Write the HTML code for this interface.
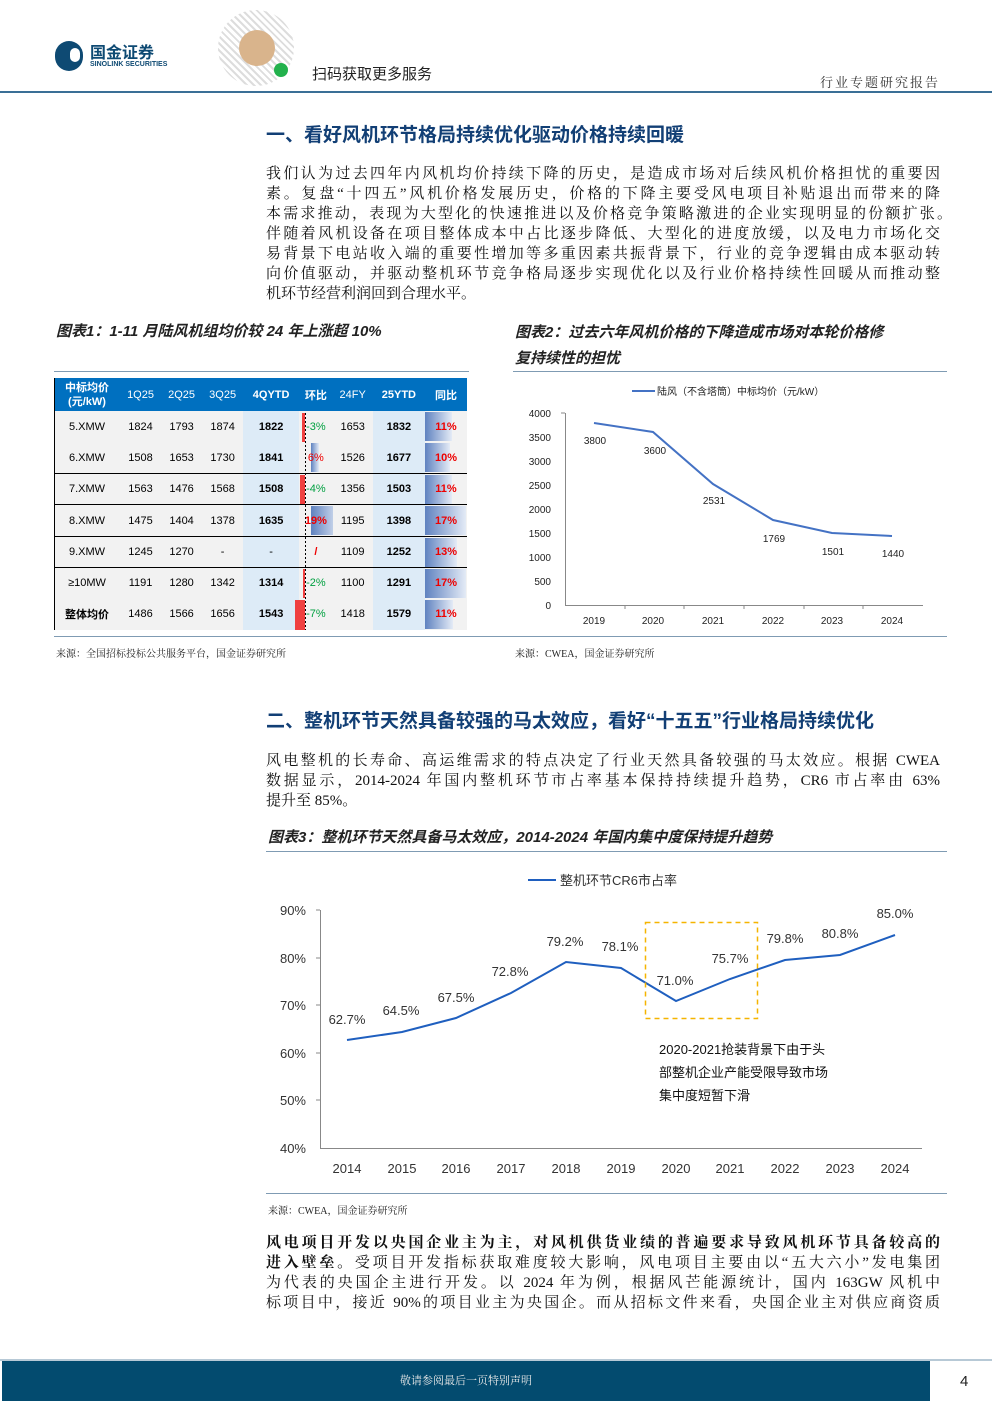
<!DOCTYPE html>
<html><head><meta charset="utf-8">
<style>
*{margin:0;padding:0;box-sizing:border-box}
body{width:992px;height:1403px;position:relative;background:#fff;overflow:hidden;font-family:"Liberation Sans","Noto Sans CJK SC",sans-serif;color:#000}
.a{position:absolute;white-space:nowrap}
.p{position:absolute;left:266px;width:674px;font-family:"Liberation Serif","Noto Serif CJK SC",serif;font-size:15px;line-height:20px;color:#111}
.p div{height:20px;text-align:justify;text-align-last:justify;white-space:nowrap;overflow:visible}
.p div.l{text-align-last:left}
.h{position:absolute;left:266px;font-size:19px;font-weight:bold;color:#123f75;font-family:"Liberation Sans","Noto Sans CJK SC",sans-serif}
.ft{position:absolute;font-size:15px;font-weight:bold;font-style:italic;color:#222;font-family:"Liberation Sans","Noto Sans CJK SC",sans-serif}
.ln{position:absolute;height:1px;background:#7f9bb3}
.src{position:absolute;font-size:10px;color:#222;font-family:"Liberation Serif","Noto Serif CJK SC",serif}
table{border-collapse:collapse;position:absolute;left:54px;top:378px;width:413px;font-size:11px;z-index:2}
td{height:31.3px;text-align:center;background-color:#f2f2f2;padding:0}
tr.hd td{background:#0070c0;color:#fff;font-weight:bold;height:33px;font-size:11px}
tr.hd td.n{font-weight:normal}
td.b{background-color:#ddebf7;font-weight:bold}
td.r{color:#e00;font-weight:bold}
td.g{color:#00a040}
td.y{background-image:linear-gradient(to right,#5f82c0,#e4ebf6);background-repeat:no-repeat;background-position:0 1px}
tr.t td{border-top:1px solid #000}
svg.top{z-index:3}
</style></head><body>
<!-- header -->
<div class="a" style="left:55px;top:41px;width:28px;height:30px;border-radius:14px;background:#0e4a73"></div>
<div class="a" style="left:70px;top:48px;width:10px;height:14px;border-radius:5px;background:#fff"></div>
<div class="a" style="left:90px;top:39px;font-size:16px;font-weight:bold;color:#0e4a73">国金证券</div>
<div class="a" style="left:90px;top:61px;font-size:7px;font-weight:bold;color:#0e4a73">SINOLINK SECURITIES</div>
<div class="a" style="left:218px;top:10px;width:76px;height:76px;border-radius:38px;background:repeating-linear-gradient(45deg,#ddd 0 2px,#fff 2px 5px);"></div>
<div class="a" style="left:239px;top:30px;width:36px;height:36px;border-radius:18px;background:#d9b48c"></div>
<div class="a" style="left:274px;top:63px;width:14px;height:14px;border-radius:7px;background:#22b14c"></div>
<div class="a" style="left:312px;top:63px;font-size:15px;color:#222">扫码获取更多服务</div>
<div class="a" style="left:820px;top:72px;font-size:13px;letter-spacing:2px;color:#333;font-family:'Liberation Serif','Noto Serif CJK SC',serif">行业专题研究报告</div>
<div class="a" style="left:0;top:91px;width:992px;height:2px;background:#3a6f96"></div>

<div class="h" style="top:120px">一、看好风机环节格局持续优化驱动价格持续回暖</div>
<div class="p" style="top:164px">
<div>我们认为过去四年内风机均价持续下降的历史，是造成市场对后续风机价格担忧的重要因</div>
<div>素。复盘“十四五”风机价格发展历史，价格的下降主要受风电项目补贴退出而带来的降</div>
<div style="width:686px">本需求推动，表现为大型化的快速推进以及价格竞争策略激进的企业实现明显的份额扩张。</div>
<div>伴随着风机设备在项目整体成本中占比逐步降低、大型化的进度放缓，以及电力市场化交</div>
<div>易背景下电站收入端的重要性增加等多重因素共振背景下，行业的竞争逻辑由成本驱动转</div>
<div>向价值驱动，并驱动整机环节竞争格局逐步实现优化以及行业价格持续性回暖从而推动整</div>
<div class="l">机环节经营利润回到合理水平。</div>
</div>

<div class="ft" style="left:56px;top:320px">图表1：1-11 月陆风机组均价较 24 年上涨超 10%</div>
<div class="ft" style="left:515px;top:320px;line-height:26px">图表2：过去六年风机价格的下降造成市场对本轮价格修<br>复持续性的担忧</div>
<div class="ln" style="left:54px;top:371px;width:415px"></div>
<div class="ln" style="left:513px;top:371px;width:434px"></div>
<div class="ln" style="left:54px;top:636px;width:893px"></div>

<table>
<tr class="hd"><td style="width:66px;line-height:14px">中标均价<br>(元/kW)</td><td class="n">1Q25</td><td class="n">2Q25</td><td class="n">3Q25</td><td>4QYTD</td><td>环比</td><td class="n">24FY</td><td>25YTD</td><td style="width:42px">同比</td></tr>
<tr><td>5.XMW</td><td>1824</td><td>1793</td><td>1874</td><td class="b">1822</td><td class="g">-3%</td><td>1653</td><td class="b">1832</td><td class="r y" style="background-size:27px 29px">11%</td></tr>
<tr><td>6.XMW</td><td>1508</td><td>1653</td><td>1730</td><td class="b">1841</td><td class="r y" style="font-weight:normal;background-size:8px 29px;background-position:12px 1px">6%</td><td>1526</td><td class="b">1677</td><td class="r y" style="background-size:25px 29px">10%</td></tr>
<tr class="t"><td>7.XMW</td><td>1563</td><td>1476</td><td>1568</td><td class="b">1508</td><td class="g">-4%</td><td>1356</td><td class="b">1503</td><td class="r y" style="background-size:27px 29px">11%</td></tr>
<tr class="t"><td>8.XMW</td><td>1475</td><td>1404</td><td>1378</td><td class="b">1635</td><td class="r y" style="background-size:30px 29px;background-position:12px 1px">19%</td><td>1195</td><td class="b">1398</td><td class="r y" style="background-size:41px 29px">17%</td></tr>
<tr class="t"><td>9.XMW</td><td>1245</td><td>1270</td><td>-</td><td class="b" style="font-weight:normal">-</td><td class="r">/</td><td>1109</td><td class="b">1252</td><td class="r y" style="background-size:32px 29px">13%</td></tr>
<tr class="t"><td>≥10MW</td><td>1191</td><td>1280</td><td>1342</td><td class="b">1314</td><td class="g">-2%</td><td>1100</td><td class="b">1291</td><td class="r y" style="background-size:41px 29px">17%</td></tr>
<tr><td style="font-weight:bold">整体均价</td><td>1486</td><td>1566</td><td>1656</td><td class="b">1543</td><td class="g">-7%</td><td>1418</td><td class="b">1579</td><td class="r y" style="background-size:28px 29px">11%</td></tr>
</table>

<svg class="a top" style="left:0;top:0" width="992" height="1403" viewBox="0 0 992 1403">
<!-- table decorations -->
<line x1="54.5" y1="378" x2="54.5" y2="630" stroke="#000"/>
<g fill="#f04040"><rect x="302" y="413" width="3" height="29"/><rect x="300" y="475" width="5" height="29"/><rect x="303" y="569" width="2" height="29"/><rect x="295" y="600" width="10" height="30"/></g>
<line x1="305.5" y1="413" x2="305.5" y2="630" stroke="#000" stroke-dasharray="2,2"/>

<!-- chart 2 -->
<g font-size="10" font-family="Liberation Sans,sans-serif" fill="#222">
<line x1="632" y1="391" x2="655" y2="391" stroke="#4472c4" stroke-width="2"/>
<text x="657" y="395">陆风（不含塔筒）中标均价（元/kW）</text>
<line x1="565.5" y1="413" x2="565.5" y2="605" stroke="#888"/>
<line x1="565" y1="605.5" x2="923" y2="605.5" stroke="#888"/>
<g text-anchor="end">
<text x="551" y="417">4000</text><text x="551" y="441">3500</text><text x="551" y="465">3000</text><text x="551" y="489">2500</text><text x="551" y="513">2000</text><text x="551" y="537">1500</text><text x="551" y="561">1000</text><text x="551" y="585">500</text><text x="551" y="609">0</text>
</g>
<g stroke="#888"><line x1="565" y1="413" x2="561" y2="413"/><line x1="625" y1="605" x2="625" y2="609"/><line x1="684" y1="605" x2="684" y2="609"/><line x1="744" y1="605" x2="744" y2="609"/><line x1="804" y1="605" x2="804" y2="609"/><line x1="863" y1="605" x2="863" y2="609"/></g>
<g text-anchor="middle">
<text x="594" y="624">2019</text><text x="653" y="624">2020</text><text x="713" y="624">2021</text><text x="773" y="624">2022</text><text x="832" y="624">2023</text><text x="892" y="624">2024</text>
<text x="595" y="444">3800</text><text x="655" y="454">3600</text><text x="714" y="504">2531</text><text x="774" y="542">1769</text><text x="833" y="555">1501</text><text x="893" y="557">1440</text>
</g>
<polyline fill="none" stroke="#4472c4" stroke-width="2" points="594,423 653,432 713,484 773,520 832,533 892,536"/>
</g>

<!-- chart 3 -->
<g font-size="13" font-family="Liberation Sans,sans-serif" fill="#333">
<line x1="528" y1="880" x2="556" y2="880" stroke="#1f5fbf" stroke-width="2"/>
<text x="560" y="885">整机环节CR6市占率</text>
<line x1="320.5" y1="910" x2="320.5" y2="1148" stroke="#888"/>
<line x1="320" y1="1148.5" x2="922" y2="1148.5" stroke="#888"/>
<g stroke="#888"><line x1="316" y1="910" x2="320" y2="910"/><line x1="316" y1="958" x2="320" y2="958"/><line x1="316" y1="1005" x2="320" y2="1005"/><line x1="316" y1="1053" x2="320" y2="1053"/><line x1="316" y1="1100" x2="320" y2="1100"/></g>
<g text-anchor="end"><text x="306" y="915">90%</text><text x="306" y="963">80%</text><text x="306" y="1010">70%</text><text x="306" y="1058">60%</text><text x="306" y="1105">50%</text><text x="306" y="1153">40%</text></g>
<g text-anchor="middle">
<text x="347" y="1173">2014</text><text x="402" y="1173">2015</text><text x="456" y="1173">2016</text><text x="511" y="1173">2017</text><text x="566" y="1173">2018</text><text x="621" y="1173">2019</text><text x="676" y="1173">2020</text><text x="730" y="1173">2021</text><text x="785" y="1173">2022</text><text x="840" y="1173">2023</text><text x="895" y="1173">2024</text>
<text x="347" y="1024">62.7%</text><text x="401" y="1015">64.5%</text><text x="456" y="1002">67.5%</text><text x="510" y="976">72.8%</text><text x="565" y="946">79.2%</text><text x="620" y="951">78.1%</text><text x="675" y="985">71.0%</text><text x="730" y="963">75.7%</text><text x="785" y="943">79.8%</text><text x="840" y="938">80.8%</text><text x="895" y="918">85.0%</text>
</g>
<polyline fill="none" stroke="#1f5fbf" stroke-width="2" points="347,1040 402,1032 456,1018 511,993 566,962 621,968 676,1001 730,979 785,960 840,955 895,935"/>
<rect x="645.5" y="922.5" width="112" height="96" fill="none" stroke="#f5b400" stroke-width="1.5" stroke-dasharray="5,4"/>
<text x="659" y="1054" fill="#111">2020-2021抢装背景下由于头</text>
<text x="659" y="1077" fill="#111">部整机企业产能受限导致市场</text>
<text x="659" y="1100" fill="#111">集中度短暂下滑</text>
</g>
</svg>

<div class="src" style="left:56px;top:645px">来源：全国招标投标公共服务平台，国金证券研究所</div>
<div class="src" style="left:515px;top:645px">来源：CWEA，国金证券研究所</div>

<div class="h" style="top:706px">二、整机环节天然具备较强的马太效应，看好“十五五”行业格局持续优化</div>
<div class="p" style="top:751px">
<div>风电整机的长寿命、高运维需求的特点决定了行业天然具备较强的马太效应。根据 CWEA</div>
<div>数据显示，2014-2024 年国内整机环节市占率基本保持持续提升趋势，CR6 市占率由 63%</div>
<div class="l">提升至 85%。</div>
</div>
<div class="ft" style="left:268px;top:826px">图表3：整机环节天然具备马太效应，2014-2024 年国内集中度保持提升趋势</div>
<div class="ln" style="left:266px;top:851px;width:681px"></div>
<div class="ln" style="left:266px;top:1193px;width:681px"></div>
<div class="src" style="left:268px;top:1202px">来源：CWEA，国金证券研究所</div>

<div class="p" style="top:1233px">
<div><b>风电项目开发以央国企业主为主，对风机供货业绩的普遍要求导致风机环节具备较高的</b></div>
<div><b>进入壁垒。</b>受项目开发指标获取难度较大影响，风电项目主要由以“五大六小”发电集团</div>
<div>为代表的央国企主进行开发。以 2024 年为例，根据风芒能源统计，国内 163GW 风机中</div>
<div>标项目中，接近 90%的项目业主为央国企。而从招标文件来看，央国企业主对供应商资质</div>
</div>

<div class="a" style="left:0;top:1359px;width:992px;height:2px;background:#b7c9d6"></div>
<div class="a" style="left:2px;top:1361px;width:928px;height:40px;background:#034b6f;color:#e8e8e8;font-size:11px;text-align:center;line-height:40px;font-family:'Liberation Serif','Noto Serif CJK SC',serif">敬请参阅最后一页特别声明</div>
<div class="a" style="left:960px;top:1373px;font-size:15px;color:#222">4</div>
</body></html>
